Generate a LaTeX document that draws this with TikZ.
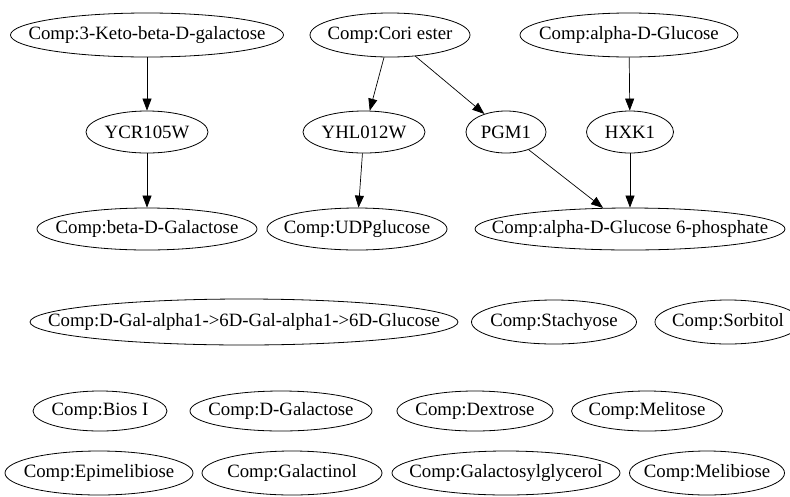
\documentclass[tikz,border=0pt]{standalone}
\usepackage{fontspec}
\setmainfont{Liberation Serif}
\usetikzlibrary{shapes.geometric,arrows.meta}
\tikzset{
  ell/.style 2 args={draw=black, line width=0.8pt, ellipse, inner sep=0pt,
    minimum width=#1, minimum height=#2,
    font=\fontsize{18.8}{20}\selectfont},
  edge/.style={draw=black, line width=0.7pt, -{Triangle[length=12pt,width=9pt]}},
}
\newcommand{\lbl}[1]{\makebox[0pt]{#1}}
\begin{document}
\begin{tikzpicture}[x=1pt,y=-1pt]
\useasboundingbox (0,0) rectangle (790,496);
\begin{scope}
\clip (0,0) rectangle (790,496);
\node[ell={273pt}{44pt}] (keto) at (147,35) {\lbl{Comp:3-Keto-beta-D-galactose}};
\node[ell={160pt}{44pt}] (cori) at (390,35) {\lbl{Comp:Cori ester}};
\node[ell={218pt}{44pt}] (aglc) at (629,35) {\lbl{Comp:alpha-D-Glucose}};
\node[ell={122pt}{42pt}] (ycr) at (147,132) {\lbl{YCR105W}};
\node[ell={122pt}{42pt}] (yhl) at (364,132) {\lbl{YHL012W}};
\node[ell={80pt}{42pt}] (pgm) at (506,132) {\lbl{PGM1}};
\node[ell={87pt}{42pt}] (hxk) at (630,132) {\lbl{HXK1}};
\node[ell={220pt}{42pt}] (bgal) at (147,229) {\lbl{Comp:beta-D-Galactose}};
\node[ell={180pt}{42pt}] (udp) at (357,229) {\lbl{Comp:UDPglucose}};
\node[ell={310pt}{42pt}] (g6p) at (630,229) {\lbl{Comp:alpha-D-Glucose 6-phosphate}};
\node[ell={428pt}{46pt}] (dgal) at (244,322) {\lbl{Comp:D-Gal-alpha1->6D-Gal-alpha1->6D-Glucose}};
\node[ell={165pt}{44pt}] (stach) at (554,322) {\lbl{Comp:Stachyose}};
\node[ell={146pt}{44pt}] (sorb) at (728,322) {\lbl{Comp:Sorbitol}};
\node[ell={134pt}{40pt}] (bios) at (100,411) {\lbl{Comp:Bios I}};
\node[ell={182pt}{40pt}] (dgalac) at (281,411) {\lbl{Comp:D-Galactose}};
\node[ell={156pt}{40pt}] (dext) at (475,411) {\lbl{Comp:Dextrose}};
\node[ell={151pt}{40pt}] (meli) at (647,411) {\lbl{Comp:Melitose}};
\node[ell={188pt}{44pt}] (epi) at (99,473) {\lbl{Comp:Epimelibiose}};
\node[ell={180pt}{44pt}] (galin) at (292,473) {\lbl{Comp:Galactinol}};
\node[ell={228pt}{44pt}] (galgly) at (506,473) {\lbl{Comp:Galactosylglycerol}};
\node[ell={155pt}{44pt}] (melib) at (707,473) {\lbl{Comp:Melibiose}};
\end{scope}
\draw[edge] (keto) -- (ycr);
\draw[edge] (ycr) -- (bgal);
\draw[edge] (cori) -- (yhl);
\draw[edge] (cori) -- (pgm);
\draw[edge] (yhl) -- (udp);
\draw[edge] (pgm) -- (g6p);
\draw[edge] (aglc) -- (hxk);
\draw[edge] (hxk) -- (g6p);
\end{tikzpicture}
\end{document}
